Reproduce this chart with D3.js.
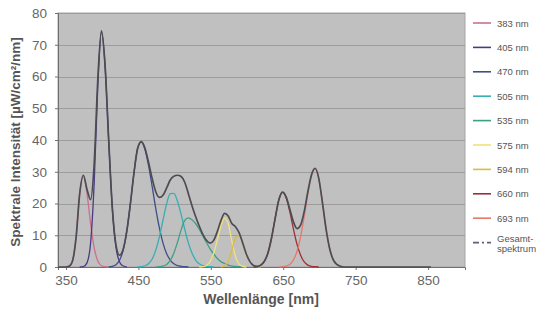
<!DOCTYPE html>
<html>
<head>
<meta charset="utf-8">
<script src="https://cdn.jsdelivr.net/npm/d3@7"></script>
<style>
  body { margin: 0; background: #fff; }
  svg { display: block; font-family: 'Liberation Sans', Arial, sans-serif; }
</style>
</head>
<body>
<figure id="spectrum" style="margin:0"></figure>
<script>
// sampled every 5 nm, each series starts at its own wavelength
const step = 5;
const seriesNames = ['383 nm', '405 nm', '470 nm', '505 nm', '535 nm', '575 nm', '594 nm', '660 nm', '693 nm'];
const seriesStart = [349, 369, 409, 449, 474, 534, 564, 609, 644];

const led383 = [0.0, 0.2, 1.9, 9.4, 23.2, 28.8, 23.2, 13.7, 6.0, 1.9, 0.4, 0.1, 0.0];
const led405 = [0.0, 0.1, 1.3, 7.5, 26.7, 57.3, 74.0, 63.4, 39.9, 18.5, 6.3, 1.6, 0.3, 0.0];
const led470 = [0.0, 0.2, 0.7, 2.1, 5.3, 11.3, 20.0, 29.8, 37.4, 39.4, 37.1, 32.0, 25.4, 18.4, 12.3, 7.5, 4.2, 2.2, 1.0, 0.4, 0.2, 0.1, 0.0];
const led505 = [0.0, 0.1, 0.4, 1.0, 2.5, 5.3, 9.5, 14.8, 19.9, 23.1, 23.2, 20.7, 16.6, 11.9, 7.6, 4.4, 2.2, 1.0, 0.4, 0.2, 0.1, 0.0];
const led535 = [0.0, 0.1, 0.3, 0.8, 2.1, 4.4, 7.8, 11.7, 14.7, 15.5, 14.9, 13.7, 11.9, 9.8, 7.7, 5.7, 4.1, 2.7, 1.7, 1.1, 0.6, 0.3, 0.2, 0.1, 0.0];
const led575 = [0.0, 0.1, 0.5, 1.7, 4.3, 8.5, 12.9, 15.4, 13.7, 8.2, 3.4, 0.9, 0.2, 0.0];
const led594 = [0.0, 0.4, 1.8, 5.2, 9.1, 9.8, 7.4, 4.1, 1.7, 0.5, 0.1, 0.0];
const led660 = [0.0, 0.1, 0.6, 1.8, 4.5, 9.3, 15.5, 21.2, 23.5, 21.8, 17.5, 12.1, 7.2, 3.7, 1.6, 0.6, 0.2, 0.1, 0.0];
const led693 = [0.0, 0.1, 0.3, 0.8, 2.2, 4.9, 9.5, 15.9, 23.1, 28.8, 31.0, 28.0, 20.5, 12.2, 5.9, 2.3, 0.8, 0.2, 0.0];
const seriesValues = [led383, led405, led470, led505, led535, led575, led594, led660, led693];

const totalName = 'Gesamt-spektrum';
const totalStart = 339;
const totalSpectrum = [
  0.0, 0.0, 0.0, 0.2, 1.9, 9.4, 23.2, 28.9, 24.5, 21.2,
  32.7, 59.2, 74.4, 63.5, 39.9, 18.7, 7.0, 3.7, 5.6, 11.3,
  20.0, 29.8, 37.4, 39.5, 37.5, 33.0, 27.9, 23.7, 21.9, 22.6,
  24.9, 27.4, 28.6, 28.9, 28.5, 26.7, 23.1, 19.3, 15.9, 12.9,
  10.3, 8.4, 7.5, 8.4, 11.2, 14.6, 16.9, 16.1, 13.7, 12.7,
  10.8, 7.6, 4.1, 1.7, 0.5, 0.2, 0.6, 1.8, 4.5, 9.3,
  15.5, 21.2, 23.6, 22.1, 18.3, 14.3, 12.1, 13.2, 17.5, 23.7,
  29.0, 31.1, 28.0, 20.5, 12.2, 5.9, 2.3, 0.8, 0.2, 0.0,
  0.0, 0.0, 0.0, 0.0, 0.0, 0.0, 0.0, 0.0, 0.0, 0.0,
  0.0, 0.0, 0.0, 0.0, 0.0, 0.0, 0.0, 0.0, 0.0, 0.0,
  0.0, 0.0, 0.0, 0.0
];

const xTicks = [350, 450, 550, 650, 750, 850];
const yTicks = [0, 10, 20, 30, 40, 50, 60, 70, 80];

const colors = ['#cc6f8a', '#4a3a86', '#3f4d88', '#35aeb4', '#3f9f84', '#f2e27a', '#dcbc3c', '#9e2f36', '#e27a6c'];

const width = 542, height = 324;
const plot = {left: 58, right: 465, top: 13, bottom: 267};

const svg = d3.select('figure#spectrum')
  .append('svg')
  .attr('width', width)
  .attr('height', height);

const x = d3.scaleLinear().domain([339, 901]).range([plot.left, plot.right]);
const y = d3.scaleLinear().domain([0, 80]).range([plot.bottom, plot.top]);

// plot area
svg.append('rect')
  .attr('x', plot.left)
  .attr('y', plot.top)
  .attr('width', plot.right - plot.left)
  .attr('height', plot.bottom - plot.top)
  .attr('fill', '#c0c0c0')
  .attr('stroke', '#a4a4a4');

// gridlines
svg.append('g')
  .selectAll('line')
  .data(yTicks.slice(1))
  .enter()
  .append('line')
  .attr('x1', plot.left)
  .attr('x2', plot.right)
  .attr('y1', d => Math.round(y(d)) + 0.5)
  .attr('y2', d => Math.round(y(d)) + 0.5)
  .attr('stroke', '#9c9c9c');

// Y axis
const yAxis = svg.append('g')
  .attr('transform', 'translate(' + plot.left + ',0)')
  .call(d3.axisLeft(y).tickValues(yTicks).tickSize(3).tickPadding(8));
yAxis.select('.domain').attr('stroke', '#707070');
yAxis.selectAll('.tick line').attr('stroke', '#707070');
yAxis.selectAll('text').attr('fill', '#666').style('font-size', '13.5px');

// X axis
const xAxis = svg.append('g')
  .attr('transform', 'translate(0,' + plot.bottom + ')')
  .call(d3.axisBottom(x).tickValues(xTicks).tickSize(3).tickPadding(5));
xAxis.select('.domain').attr('stroke', '#707070');
xAxis.selectAll('.tick line').attr('stroke', '#707070');
xAxis.selectAll('text').attr('fill', '#666').style('font-size', '13.5px');

// axis titles
svg.append('text')
  .attr('transform', 'translate(20,' + ((plot.top + plot.bottom) / 2 + 2) + ') rotate(-90)')
  .attr('text-anchor', 'middle')
  .attr('fill', '#555')
  .style('font-size', '13.5px')
  .style('font-weight', 'bold')
  .text('Spektrale Intensität [µW/cm²/nm]');

svg.append('text')
  .attr('x', 261)
  .attr('y', 304)
  .attr('text-anchor', 'middle')
  .attr('fill', '#555')
  .style('font-size', '14px')
  .style('font-weight', 'bold')
  .text('Wellenlänge [nm]');

// Add lines
const line = d3.line()
  .x(d => x(d[0]))
  .y(d => y(d[1]))
  .curve(d3.curveMonotoneX);

const toPoints = (start, values) => values.map((v, i) => [start + i * step, v]);

const lines = svg.append('g');
lines.selectAll('path.led')
  .data(seriesValues)
  .enter()
  .append('path')
  .attr('class', 'led')
  .attr('d', (d, i) => line(toPoints(seriesStart[i], d)))
  .attr('fill', 'none')
  .attr('stroke', (d, i) => colors[i])
  .attr('stroke-width', 1.3);

lines.append('path')
  .attr('d', line(toPoints(totalStart, totalSpectrum)))
  .attr('fill', 'none')
  .attr('stroke', '#4c4c52')
  .attr('stroke-width', 1.7);

// legend
const legend = svg.append('g').attr('transform', 'translate(473,23)');
const rowH = 24.4;
const entries = seriesNames.concat([totalName]);

legend.selectAll('line')
  .data(entries)
  .enter()
  .append('line')
  .attr('x1', 0)
  .attr('x2', 18)
  .attr('y1', (d, i) => i * rowH)
  .attr('y2', (d, i) => i * rowH)
  .attr('stroke', (d, i) => i < colors.length ? colors[i] : '#5a6472')
  .attr('stroke-width', 1.6)
  .attr('stroke-dasharray', (d, i) => i < colors.length ? null : '6,3,2,3');

legend.selectAll('text')
  .data(entries)
  .enter()
  .append('text')
  .attr('x', 24)
  .attr('y', (d, i) => i * rowH + 3.5)
  .attr('fill', '#555')
  .style('font-size', '9.5px')
  .each(function(d, i) {
    const t = d3.select(this);
    if (i < colors.length) { t.text(d); return; }
    t.attr('y', i * rowH - 0.5);
    t.append('tspan').attr('x', 24).text('Gesamt-');
    t.append('tspan').attr('x', 24).attr('dy', 10).text('spektrum');
  });
</script>
</body>
</html>
